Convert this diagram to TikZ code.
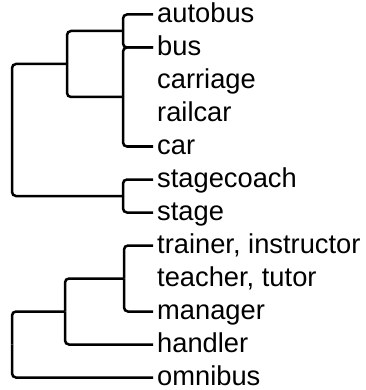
\documentclass[tikz,border=0pt]{standalone}
\usepackage{fontspec}
\setmainfont{Liberation Sans}

\begin{document}
\begin{tikzpicture}[x=1pt,y=-1pt,
    leaf/.style={anchor=west, inner xsep=4pt, inner ysep=0pt, text height=16pt, text depth=0pt, font=\fontsize{27.3}{30}\selectfont},
    branch/.style={line width=2.5pt, rounded corners=4pt}]

    \useasboundingbox (0,0) rectangle (365,390);

    % leaves, one row every 33pt
    \foreach \n/\t [count=\i from 0] in {autobus/autobus, bus/bus, carriage/carriage, railcar/railcar, car/car, stagecoach/stagecoach, stage/stage, trainer/{trainer, instructor}, teacher/{teacher, tutor}, manager/manager, handler/handler, omnibus/omnibus}
        \node[leaf] (\n) at (153, 14.5+33*\i) {\t};

    % joins
    \coordinate (jA) at (123, 31);
    \coordinate (jB) at (123, 97);
    \coordinate (jC) at (67, 64);
    \coordinate (jD) at (123, 196);
    \coordinate (jE) at (12, 130);
    \coordinate (jF) at (124, 278.5);
    \coordinate (jG) at (65, 311.5);
    \coordinate (jH) at (12, 344.5);

    \draw[branch] (jA) |- (autobus.west);
    \draw[branch] (jA) |- (bus.west);
    \draw[branch] (jB) |- (bus.west);
    \draw[branch] (jB) |- (car.west);
    \draw[branch] (jC) |- (jA);
    \draw[branch] (jC) |- (jB);
    \draw[branch] (jD) |- (stagecoach.west);
    \draw[branch] (jD) |- (stage.west);
    \draw[branch] (jE) |- (jC);
    \draw[branch] (jE) |- (jD);

    \draw[branch] (jF) |- (trainer.west);
    \draw[branch] (jF) |- (manager.west);
    \draw[branch] (jG) |- (jF);
    \draw[branch] (jG) |- (handler.west);
    \draw[branch] (jH) |- (jG);
    \draw[branch] (jH) |- (omnibus.west);

\end{tikzpicture}
\end{document}
